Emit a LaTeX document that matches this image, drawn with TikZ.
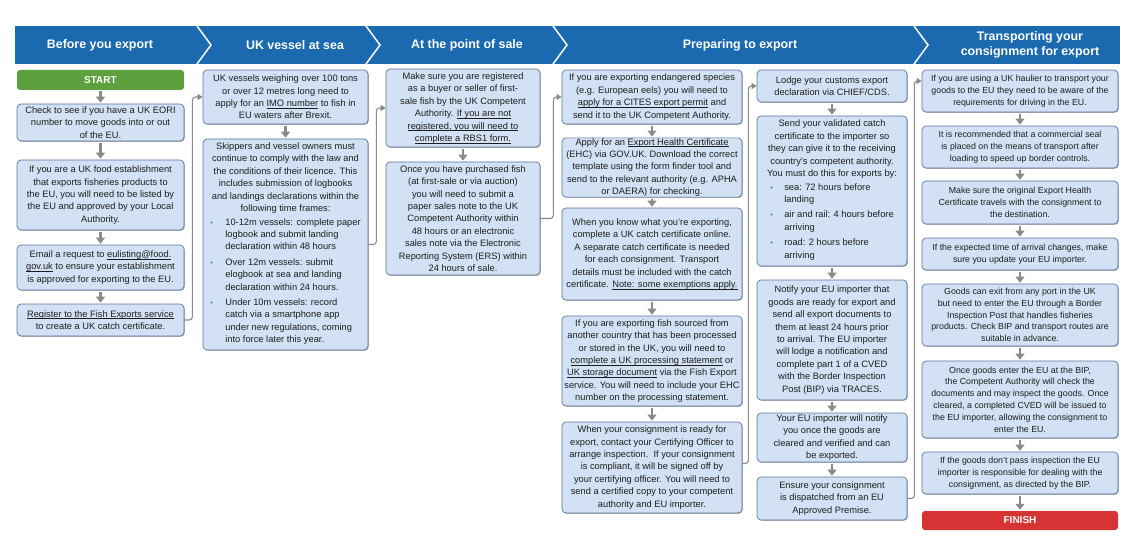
\documentclass[tikz,border=0pt]{standalone}
\usepackage{fontspec}
\usepackage{graphicx}
\setmainfont{Liberation Sans}
\usetikzlibrary{arrows.meta,shadows}
\definecolor{hdrblue}{RGB}{27,106,175}
\definecolor{boxfill}{RGB}{210,225,244}
\definecolor{boxline}{RGB}{90,118,158}
\definecolor{arrgray}{RGB}{138,138,138}
\definecolor{startgreen}{RGB}{93,160,64}
\definecolor{finishred}{RGB}{214,52,52}
\definecolor{txt}{RGB}{30,30,30}
\definecolor{bulc}{RGB}{60,120,200}
\newcommand\bxf{\fontsize{9.3}{12.4}\selectfont}
\newcommand\bxs{\fontsize{8.8}{11.8}\selectfont}
\newcommand\hdf{\fontsize{12.4}{14.4}\selectfont\bfseries}
\newsavebox\undbox
\newcommand\und[1]{\sbox\undbox{#1}\rlap{\rule[-1.6pt]{\wd\undbox}{0.5pt}}\usebox\undbox}
\newcommand\bul{\textcolor{bulc}{\scalebox{0.8}{\textbullet}}}
\tikzset{
  box/.style={draw=boxline, fill=boxfill, line width=0.7pt, rounded corners=4pt,
    align=center, inner sep=0.5pt, font=\bxf, text=txt,
    drop shadow={shadow xshift=0.8pt, shadow yshift=-0.8pt, opacity=0.3, fill=black}},
  sbox/.style={box, font=\bxs},
  conn/.style={draw=arrgray, line width=1.1pt, rounded corners=3pt,
    -{Triangle[width=6pt,length=5pt]}},
  down/.style={draw=arrgray, line width=2.2pt, -{Triangle[width=9pt,length=6pt]},
    shorten <=1.2pt, shorten >=1pt},
  hdr/.style={text=white, font=\hdf, align=center},
  bar/.style={rounded corners=3pt, text=white, font=\fontsize{10}{12}\selectfont\bfseries,
    inner sep=0pt}
}
\begin{document}
\begin{tikzpicture}[x=1pt,y=-1pt]
\useasboundingbox[fill=white] (0,0) rectangle (1126,556);
% header band
\fill[hdrblue] (15,26) rectangle (1120,64);
\foreach \cx in {197,366,553,914}{
  \draw[white, line width=1.5pt] (\cx,26) -- (\cx+14,45) -- (\cx,64);
}
\node[hdr] (h1) at (100,45) {Before you export};
\node[hdr] (h2) at (295,45) {UK vessel at sea};
\node[hdr] (h3) at (467,45) {At the point of sale};
\node[hdr] (h4) at (740,45) {Preparing to export};
\node[hdr] (h5) at (1030,45) {Transporting your\\consignment for export};

% column 1
\node[bar, fill=startgreen, minimum width=167pt, minimum height=20pt] (start) at (100.5,80) {START};
\node[box, minimum width=167pt, minimum height=37pt] (c1b1) at (100.5,122.5)
 {Check to see if you have a UK EORI\\number to move goods into or out\\of the EU.};
\node[box, minimum width=167pt, minimum height=70pt] (c1b2) at (100.5,195)
 {If you are a UK food establishment\\that exports fisheries products to\\the EU, you will need to be listed by\\the EU and approved by your Local\\Authority.};
\node[box, minimum width=167pt, minimum height=45pt] (c1b3) at (100.5,267.5)
 {Email a request to \und{eulisting@food.}\\\und{gov.uk} to ensure your establishment\\is approved for exporting to the EU.};
\node[box, minimum width=167pt, minimum height=32pt] (c1b4) at (100.5,320)
 {\und{Register to the Fish Exports service}\\to create a UK catch certificate.};

% column 2
\node[box, minimum width=165pt, minimum height=54pt] (c2b1) at (285.5,97)
 {UK vessels weighing over 100 tons\\or over 12 metres long need to\\apply for an \und{IMO number} to fish in\\EU waters after Brexit.};
\node[box, minimum width=165pt, minimum height=211pt] (c2b2) at (285.5,244.5)
 {Skippers and vessel owners must\\continue to comply with the law and\\the conditions of their licence. This\\includes submission of logbooks\\and landings declarations within the\\following time frames:\\[2pt]
 {\begin{tabular}{@{}p{15pt}@{}l@{}}
 \bul & 10-12m vessels: complete paper\\
  & logbook and submit landing\\
  & declaration within 48 hours\\[3pt]
 \bul & Over 12m vessels: submit\\
  & elogbook at sea and landing\\
  & declaration within 24 hours.\\[3pt]
 \bul & Under 10m vessels: record\\
  & catch via a smartphone app\\
  & under new regulations, coming\\
  & into force later this year.
 \end{tabular}}};

% column 3
\node[box, minimum width=154pt, minimum height=78pt] (c3b1) at (463,108)
 {Make sure you are registered\\as a buyer or seller of first-\\sale fish by the UK Competent\\Authority. \und{If you are not}\\\und{registered, you will need to}\\\und{complete a RBS1 form.}};
\node[box, minimum width=154pt, minimum height=113pt] (c3b2) at (463,218.5)
 {Once you have purchased fish\\(at first-sale or via auction)\\you will need to submit a\\paper sales note to the UK\\Competent Authority within\\48 hours or an electronic\\sales note via the Electronic\\Reporting System (ERS) within\\24 hours of sale.};

% column 4
\node[box, minimum width=180pt, minimum height=54pt] (c4b1) at (652,97)
 {If you are exporting endangered species\\(e.g. European eels) you will need to\\\und{apply for a CITES export permit} and\\send it to the UK Competent Authority.};
\node[box, minimum width=180pt, minimum height=57pt] (c4b2) at (652,167.5)
 {Apply for an \und{Export Health Certificate}\\(EHC) via GOV.UK. Download the correct\\template using the form finder tool and\\send to the relevant authority (e.g. APHA\\or DAERA) for checking.};
\node[box, minimum width=180pt, minimum height=92pt] (c4b3) at (652,254)
 {When you know what you're exporting,\\complete a UK catch certificate online.\\A separate catch certificate is needed\\for each consignment. Transport\\details must be included with the catch\\certificate. \und{Note: some exemptions apply.}};
\node[box, minimum width=180pt, minimum height=90pt] (c4b4) at (652,361)
 {If you are exporting fish sourced from\\another country that has been processed\\or stored in the UK, you will need to\\\und{complete a UK processing statement} or\\\und{UK storage document} via the Fish Export\\service. You will need to include your EHC\\number on the processing statement.};
\node[box, minimum width=180pt, minimum height=91pt] (c4b5) at (652,467.5)
 {When your consignment is ready for\\export, contact your Certifying Officer to\\arrange inspection.\ \ If your consignment\\is compliant, it will be signed off by\\your certifying officer. You will need to\\send a certified copy to your competent\\authority and EU importer.};

% column 5
\node[box, minimum width=150pt, minimum height=32pt] (c5b1) at (832,86)
 {Lodge your customs export\\declaration via CHIEF/CDS.};
\node[box, minimum width=150pt, minimum height=150pt] (c5b2) at (832,191)
 {Send your validated catch\\certificate to the importer so\\they can give it to the receiving\\country's competent authority.\\You must do this for exports by:\\[2pt]
 {\begin{tabular}{@{}p{14pt}@{}l@{}}
 \bul & sea: 72 hours before\\
  & landing\\[3pt]
 \bul & air and rail: 4 hours before\\
  & arriving\\[3pt]
 \bul & road: 2 hours before\\
  & arriving
 \end{tabular}}};
\node[box, minimum width=150pt, minimum height=120pt] (c5b3) at (832,340)
 {Notify your EU importer that\\goods are ready for export and\\send all export documents to\\them at least 24 hours prior\\to arrival. The EU importer\\will lodge a notification and\\complete part 1 of a CVED\\with the Border Inspection\\Post (BIP) via TRACES.};
\node[box, minimum width=150pt, minimum height=49pt] (c5b4) at (832,437.5)
 {Your EU importer will notify\\you once the goods are\\cleared and verified and can\\be exported.};
\node[box, minimum width=150pt, minimum height=43pt] (c5b5) at (832,498.5)
 {Ensure your consignment\\is dispatched from an EU\\Approved Premise.};

% column 6
\node[sbox, minimum width=196pt, minimum height=42pt] (c6b1) at (1020,91)
 {If you are using a UK haulier to transport your\\goods to the EU they need to be aware of the\\requirements for driving in the EU.};
\node[sbox, minimum width=196pt, minimum height=42pt] (c6b2) at (1020,147)
 {It is recommended that a commercial seal\\is placed on the means of transport after\\loading to speed up border controls.};
\node[sbox, minimum width=196pt, minimum height=43pt] (c6b3) at (1020,202.5)
 {Make sure the original Export Health\\Certificate travels with the consignment to\\the destination.};
\node[sbox, minimum width=196pt, minimum height=32pt] (c6b4) at (1020,254)
 {If the expected time of arrival changes, make\\sure you update your EU importer.};
\node[sbox, minimum width=196pt, minimum height=62pt] (c6b5) at (1020,315)
 {Goods can exit from any port in the UK\\but need to enter the EU through a Border\\Inspection Post that handles fisheries\\products. Check BIP and transport routes are\\suitable in advance.};
\node[sbox, minimum width=196pt, minimum height=77pt] (c6b6) at (1020,399.5)
 {Once goods enter the EU at the BIP,\\the Competent Authority will check the\\documents and may inspect the goods. Once\\cleared, a completed CVED will be issued to\\the EU importer, allowing the consignment to\\enter the EU.};
\node[sbox, minimum width=196pt, minimum height=42pt] (c6b7) at (1020,473)
 {If the goods don't pass inspection the EU\\importer is responsible for dealing with the\\consignment, as directed by the BIP.};
\node[bar, fill=finishred, minimum width=196pt, minimum height=19pt] (finish) at (1020,520.5) {FINISH};

% down arrows
\foreach \a/\b in {start/c1b1,c1b1/c1b2,c1b2/c1b3,c1b3/c1b4,c2b1/c2b2,c3b1/c3b2,
  c4b1/c4b2,c4b2/c4b3,c4b3/c4b4,c4b4/c4b5,
  c5b1/c5b2,c5b2/c5b3,c5b3/c5b4,c5b4/c5b5,
  c6b1/c6b2,c6b2/c6b3,c6b3/c6b4,c6b4/c6b5,c6b5/c6b6,c6b6/c6b7,c6b7/finish}{
  \draw[down] (\a.south) -- (\b.north);
}

% column connectors
\draw[conn] (c1b4.east) -- ++(8,0) |- (c2b1.west);
\draw[conn] (c2b2.east) -- ++(8,0) |- (c3b1.west);
\draw[conn] (c3b2.east) -- ++(13,0) |- (c4b1.west);
\draw[conn] ([yshift=4pt]c4b5.east) -- ++(6,0) |- (c5b1.west);
\draw[conn] (c5b5.east) -- ++(7,0) |- ([yshift=10pt]c6b1.west);
\end{tikzpicture}
\end{document}
